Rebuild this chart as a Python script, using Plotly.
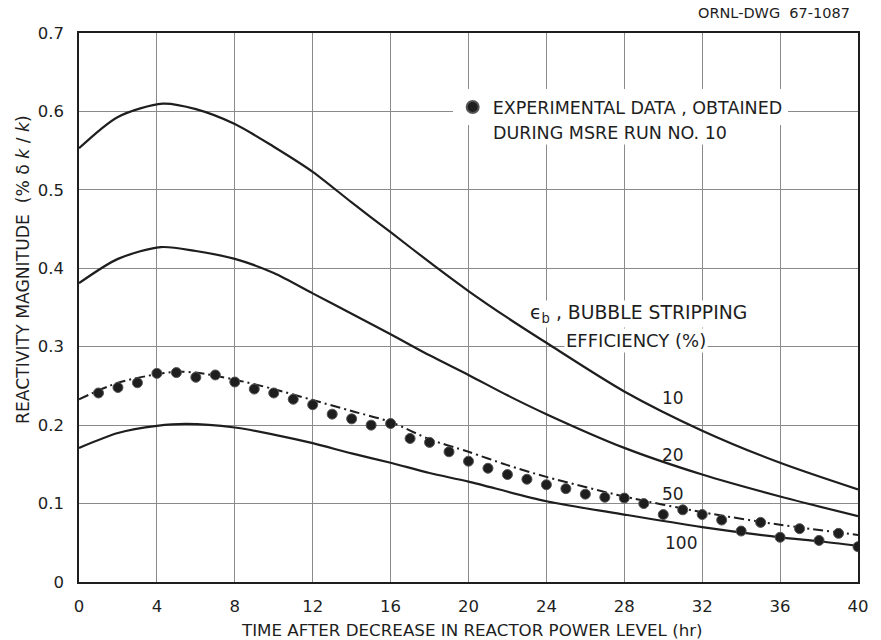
import plotly.graph_objects as go

# Time after the power decrease (hr) and measured reactivity magnitude (% dk/k)
data_hours = list(range(1, 41))
data_reactivity = [0.241, 0.248, 0.254, 0.266, 0.267, 0.261, 0.264, 0.255, 0.246, 0.241,
                   0.233, 0.226, 0.214, 0.208, 0.200, 0.202, 0.183, 0.178, 0.166, 0.154,
                   0.145, 0.137, 0.131, 0.124, 0.119, 0.112, 0.108, 0.107, 0.100, 0.086,
                   0.092, 0.086, 0.079, 0.065, 0.076, 0.057, 0.068, 0.053, 0.062, 0.045]

# Calculated curves for several bubble stripping efficiencies
eff10_hours = [0, 2, 4.3, 6, 8, 10, 12, 14, 16, 18.2, 20, 22, 24, 28, 32, 36, 40]
eff10_vals = [0.553, 0.593, 0.610, 0.603, 0.584, 0.555, 0.523, 0.484, 0.446, 0.404, 0.371,
              0.337, 0.305, 0.243, 0.193, 0.152, 0.118]

eff20_hours = [0, 2, 4.2, 6, 8, 10, 12, 14, 16, 18, 20, 22, 24, 28, 32, 36, 40]
eff20_vals = [0.381, 0.412, 0.427, 0.422, 0.412, 0.394, 0.368, 0.342, 0.316, 0.289, 0.264,
              0.238, 0.214, 0.171, 0.137, 0.109, 0.084]

eff50_hours = [0, 2, 4, 5, 6, 8, 10, 12, 14, 16, 18, 20, 22, 24, 28, 32, 36, 40]
eff50_vals = [0.233, 0.254, 0.265, 0.268, 0.267, 0.258, 0.246, 0.232, 0.218, 0.204, 0.182,
              0.166, 0.149, 0.134, 0.109, 0.089, 0.073, 0.060]

eff100_hours = [0, 2, 4, 5.5, 8, 10, 12, 14, 16, 18, 20, 24, 28, 32, 36, 38, 40]
eff100_vals = [0.171, 0.190, 0.199, 0.2015, 0.197, 0.188, 0.177, 0.164, 0.152, 0.139, 0.128,
               0.103, 0.086, 0.070, 0.057, 0.052, 0.046]

curve_labels = ["10", "20", "50", "100"]
label_pos_x = [30.5, 30.5, 30.5, 30.9]
label_pos_y = [0.235, 0.162, 0.112, 0.050]

x_ticks = [0, 4, 8, 12, 16, 20, 24, 28, 32, 36, 40]
y_ticks = [0, 0.1, 0.2, 0.3, 0.4, 0.5, 0.6, 0.7]

FONT = "DejaVu Sans"
INK = "#1e1e1e"

fig = go.Figure()

solid = dict(color=INK, width=2.2, shape="spline", smoothing=0.8)
fig.add_trace(go.Scatter(x=eff10_hours, y=eff10_vals, mode="lines", line=solid, showlegend=False))
fig.add_trace(go.Scatter(x=eff20_hours, y=eff20_vals, mode="lines", line=solid, showlegend=False))
fig.add_trace(go.Scatter(x=eff50_hours, y=eff50_vals, mode="lines",
                         line=dict(color=INK, width=2, dash="10px,4px,2px,4px",
                                   shape="spline", smoothing=0.8),
                         showlegend=False))
fig.add_trace(go.Scatter(x=eff100_hours, y=eff100_vals, mode="lines", line=solid, showlegend=False))

fig.add_trace(go.Scatter(
    x=data_hours, y=data_reactivity, mode="markers",
    marker=dict(symbol="circle", size=10, color=INK, line=dict(color="#555", width=1)),
    name="EXPERIMENTAL DATA , OBTAINED",
    showlegend=True,
))

# second line of the legend entry
fig.add_annotation(x=21.15, y=0.572, xref="x", yref="y", xanchor="left", yanchor="middle",
                   text="DURING MSRE RUN NO. 10", showarrow=False, bgcolor="white",
                   font=dict(family=FONT, size=17.5, color=INK))

for lab, lx, ly in zip(curve_labels, label_pos_x, label_pos_y):
    fig.add_annotation(x=lx, y=ly, xref="x", yref="y", text=lab, showarrow=False,
                       font=dict(family=FONT, size=17, color=INK))

fig.add_annotation(x=23.05, y=0.342, xref="x", yref="y", xanchor="left", yanchor="middle",
                   text="ϵ<sub>b</sub> , BUBBLE STRIPPING", showarrow=False,
                   bgcolor="white", font=dict(family=FONT, size=18.8, color=INK))
fig.add_annotation(x=24.9, y=0.308, xref="x", yref="y", xanchor="left", yanchor="middle",
                   text="EFFICIENCY (%)", showarrow=False,
                   bgcolor="white", font=dict(family=FONT, size=18, color=INK))

# axis titles and drawing number
fig.add_annotation(x=0.504, y=-0.087, xref="paper", yref="paper", xanchor="center",
                   yanchor="middle", showarrow=False,
                   text="TIME AFTER DECREASE IN REACTOR POWER LEVEL (hr)",
                   font=dict(family=FONT, size=16.7, color=INK))
fig.add_annotation(x=-0.072, y=0.57, xref="paper", yref="paper", xanchor="center",
                   yanchor="middle", showarrow=False, textangle=-90,
                   text="REACTIVITY MAGNITUDE  (% δ <i>k</i> / <i>k</i>)",
                   font=dict(family=FONT, size=17.2, color=INK))
fig.add_annotation(x=0.992, y=1.036, xref="paper", yref="paper", xanchor="right",
                   yanchor="middle", showarrow=False, text="ORNL-DWG  67-1087",
                   font=dict(family=FONT, size=14.5, color=INK))

fig.update_xaxes(range=[0, 40], tickvals=x_ticks, ticktext=[str(t) for t in x_ticks],
                 showgrid=True, gridcolor="#8a8a8a", gridwidth=1, zeroline=False,
                 showline=True, linecolor=INK, linewidth=1.5, mirror=True, ticks="",
                 ticklabelstandoff=8, tickfont=dict(family=FONT, size=16.5, color=INK))
fig.update_yaxes(range=[0, 0.7], tickvals=y_ticks,
                 ticktext=["0" if t == 0 else f"{t:.1f}" for t in y_ticks],
                 showgrid=True, gridcolor="#8a8a8a", gridwidth=1, zeroline=False,
                 showline=True, linecolor=INK, linewidth=1.5, mirror=True, ticks="",
                 ticklabelstandoff=10, tickfont=dict(family=FONT, size=16.5, color=INK))

fig.update_layout(
    width=881, height=640,
    margin=dict(l=79, r=12, t=33, b=58),
    paper_bgcolor="white", plot_bgcolor="white",
    legend=dict(x=0.4797, y=0.865, xanchor="left", yanchor="middle", bgcolor="white",
                font=dict(family=FONT, size=17.5, color=INK),
                itemsizing="constant", borderwidth=0, tracegroupgap=0),
    showlegend=True,
)

fig.write_html("out.html")
